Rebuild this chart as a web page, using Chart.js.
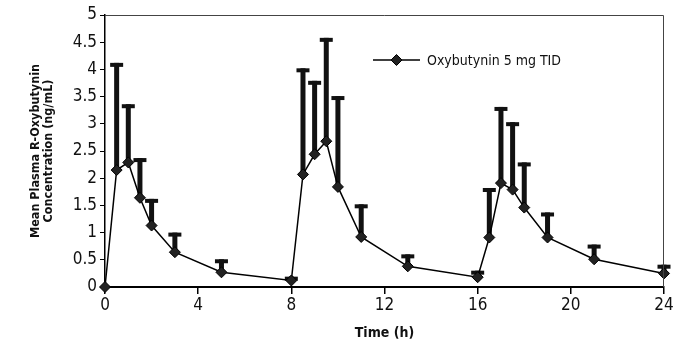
<!DOCTYPE html>
<html lang="en">
<head>
<meta charset="UTF-8">
<title>R-Oxybutynin</title>
<script src="https://cdn.jsdelivr.net/npm/chart.js@4.4.0/dist/chart.umd.min.js"></script>
<style>
  body { margin: 0; background: #fff; }
</style>
</head>
<body>
<canvas id="chart" width="688" height="351"></canvas>
<script>
// sampling times (h), mean concentration and upper SD (ng/mL)
const times = [0, 0.5, 1, 1.5, 2, 3, 5, 8, 8.5, 9, 9.5, 10, 11, 13, 16, 16.5, 17, 17.5, 18, 19, 21, 24];
const means = [0, 2.15, 2.29, 1.64, 1.13, 0.64, 0.27, 0.12, 2.07, 2.44, 2.68, 1.84, 0.92, 0.38, 0.18, 0.91, 1.91, 1.79, 1.46, 0.91, 0.51, 0.25];
const sdUpper = [0, 1.97, 1.07, 0.73, 0.49, 0.36, 0.24, 0.07, 1.95, 1.35, 1.90, 1.67, 0.60, 0.22, 0.12, 0.91, 1.40, 1.24, 0.83, 0.46, 0.27, 0.16];
const xTicks = [0, 4, 8, 12, 16, 20, 24];
const seriesLabel = 'Oxybutynin 5 mg TID';

const narrow = "'DejaVu Sans Condensed', 'Liberation Sans Narrow', sans-serif";

const points = times.map((t, i) => ({ x: t, y: means[i] }));

// thick upper-only error bars, drawn under the markers
const errorBars = {
  id: 'errorBars',
  beforeDatasetsDraw(chart) {
    const ctx = chart.ctx, xs = chart.scales.x, ys = chart.scales.y;
    ctx.save();
    ctx.fillStyle = '#111';
    times.forEach((t, i) => {
      if (!sdUpper[i]) return;
      const px = xs.getPixelForValue(t);
      const y0 = ys.getPixelForValue(means[i]);
      const y1 = ys.getPixelForValue(means[i] + sdUpper[i]);
      ctx.fillRect(px - 2.5, y1, 5, y0 - y1);
      ctx.fillRect(px - 6.5, y1, 13, 4);
    });
    ctx.restore();
  }
};

// top/right frame and the legend inside the plot
const frameLegend = {
  id: 'frameLegend',
  afterDraw(chart) {
    const ctx = chart.ctx, a = chart.chartArea;
    ctx.save();
    ctx.strokeStyle = '#444';
    ctx.lineWidth = 1;
    ctx.beginPath();
    ctx.moveTo(a.left, a.top + 0.5);
    ctx.lineTo(a.right - 0.5, a.top + 0.5);
    ctx.lineTo(a.right - 0.5, a.bottom);
    ctx.stroke();

    const ly = 60, lx0 = 373, lx1 = 420;
    ctx.strokeStyle = '#000';
    ctx.lineWidth = 1.5;
    ctx.beginPath();
    ctx.moveTo(lx0, ly);
    ctx.lineTo(lx1, ly);
    ctx.stroke();
    const cx = (lx0 + lx1) / 2, r = 5.5;
    ctx.fillStyle = '#222';
    ctx.lineWidth = 1;
    ctx.beginPath();
    ctx.moveTo(cx, ly - r);
    ctx.lineTo(cx + r, ly);
    ctx.lineTo(cx, ly + r);
    ctx.lineTo(cx - r, ly);
    ctx.closePath();
    ctx.fill();
    ctx.stroke();
    ctx.fillStyle = '#111';
    ctx.font = '14px ' + narrow;
    ctx.textBaseline = 'middle';
    ctx.fillText(chart.data.datasets[0].label, 427, ly + 1);
    ctx.restore();
  }
};

new Chart(document.getElementById('chart'), {
  type: 'line',
  data: {
    datasets: [{
      label: seriesLabel,
      data: points,
      borderColor: '#000',
      borderWidth: 1.5,
      pointStyle: 'rectRot',
      pointRadius: 5.5,
      pointBackgroundColor: '#222',
      pointBorderColor: '#000',
      pointBorderWidth: 1,
      clip: false,
      tension: 0
    }]
  },
  options: {
    responsive: false,
    animation: false,
    layout: { padding: { top: 15, right: 24, left: 0, bottom: 0 } },
    plugins: { legend: { display: false }, tooltip: { enabled: false } },
    scales: {
      x: {
        type: 'linear',
        min: 0,
        max: 24,
        afterBuildTicks: s => { s.ticks = xTicks.map(v => ({ value: v })); },
        afterFit: s => { s.height = 64; },
        grid: { drawOnChartArea: false, tickLength: 7, color: '#000', lineWidth: 1.5 },
        border: { color: '#000', width: 2 },
        ticks: { color: '#111', padding: 1, font: { family: narrow, size: 17 } },
        title: {
          display: true, text: 'Time (h)', color: '#111',
          font: { family: narrow, size: 14, weight: 'bold', lineHeight: 1.2 },
          padding: { top: 0, bottom: 9 }
        }
      },
      y: {
        min: 0,
        max: 5,
        ticks: {
          stepSize: 0.5, color: '#111', padding: 3,
          font: { family: narrow, size: 17 },
          callback: v => String(+v.toFixed(1))
        },
        afterFit: s => { s.width = 105; },
        grid: { drawOnChartArea: false, tickLength: 5, color: '#000', lineWidth: 1 },
        border: { color: '#000', width: 1.5 },
        title: {
          display: true, text: ['Mean Plasma R-Oxybutynin', 'Concentration (ng/mL)'], color: '#111',
          font: { family: narrow, size: 12.5, weight: 'bold', lineHeight: 1.05 },
          padding: { top: 29, bottom: 0 }
        }
      }
    }
  },
  plugins: [errorBars, frameLegend]
});
</script>
</body>
</html>
